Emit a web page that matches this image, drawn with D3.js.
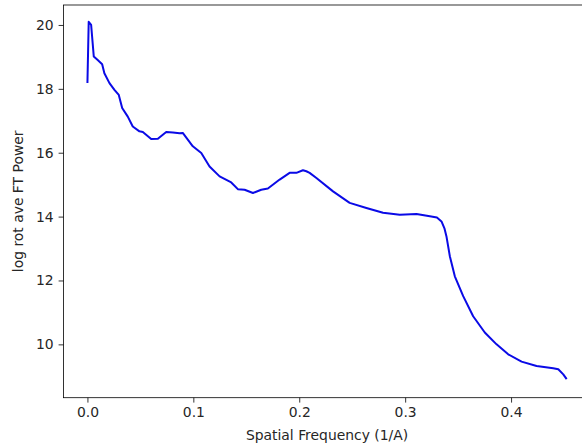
<!DOCTYPE html>
<html>
<head>
<meta charset="utf-8">
<script src="https://d3js.org/d3.v7.min.js"></script>
<style>
  body { margin: 0; background: #fff; }
  svg text { font-family: "DejaVu Sans", sans-serif; }
</style>
</head>
<body>
<div id="chart"></div>
<script>

// data
var freq = [0.0, 0.0012, 0.0035, 0.006, 0.0097, 0.0139, 0.016, 0.0208, 0.0255, 0.0296,
    0.0328, 0.0381, 0.0428, 0.0491, 0.0523, 0.0602, 0.0665, 0.0744, 0.0807, 0.087,
    0.09, 0.0995, 0.1075, 0.1153, 0.1248, 0.1358, 0.142, 0.1484, 0.1563, 0.1641,
    0.1704, 0.1815, 0.1909, 0.1973, 0.2035, 0.2067, 0.2098, 0.2162, 0.2319, 0.2476,
    0.2634, 0.2791, 0.2949, 0.3107, 0.3233, 0.3300, 0.3343, 0.3372, 0.339, 0.3422,
    0.3469, 0.3548, 0.3642, 0.3752, 0.3863, 0.3973, 0.4099, 0.4241, 0.4398, 0.4446,
    0.4493, 0.4525];
var power = [18.18, 20.10, 20.0, 19.01, 18.9, 18.77, 18.49, 18.18, 17.97, 17.81,
    17.4, 17.13, 16.82, 16.67, 16.65, 16.43, 16.44, 16.65, 16.63, 16.61,
    16.62, 16.2, 15.99, 15.57, 15.26, 15.07, 14.86, 14.84, 14.74, 14.84,
    14.88, 15.16, 15.37, 15.37, 15.45, 15.42, 15.37, 15.21, 14.79, 14.43,
    14.27, 14.12, 14.06, 14.08, 14.01, 13.97, 13.85, 13.62, 13.38, 12.76,
    12.13, 11.51, 10.88, 10.37, 10.0, 9.69, 9.46, 9.32, 9.25, 9.22,
    9.06, 8.91];
var xTicks = [0.0, 0.1, 0.2, 0.3, 0.4];
var yTicks = [10, 12, 14, 16, 18, 20];

var data = freq.map(function(f, i) { return {x: f, y: power[i]}; });

var W = 582, H = 446;
var plot = {left: 63.5, top: 5, right: 590.6, bottom: 397.7};

var svg = d3.select("#chart")
    .append("svg")
    .attr("width", W)
    .attr("height", H);

var x = d3.scaleLinear()
    .domain([-0.0226, 0.4751])
    .range([plot.left, plot.right]);

var y = d3.scaleLinear()
    .domain([8.33, 20.625])
    .range([plot.bottom, plot.top]);

var xAxis = d3.axisBottom(x)
    .tickValues(xTicks)
    .tickFormat(d3.format(".1f"))
    .tickSize(4.9)
    .tickPadding(4.9);

var yAxis = d3.axisLeft(y)
    .tickValues(yTicks)
    .tickFormat(d3.format("d"))
    .tickSize(4.9)
    .tickPadding(4.9);

var gx = svg.append("g")
    .attr("transform", "translate(0," + plot.bottom + ")")
    .call(xAxis);

var gy = svg.append("g")
    .attr("transform", "translate(" + plot.left + ",0)")
    .call(yAxis);

[gx, gy].forEach(function(g) {
    g.select(".domain").remove();
    g.selectAll(".tick line").attr("stroke", "#000").attr("stroke-width", 0.8);
    g.selectAll(".tick text")
        .attr("fill", "#262626")
        .style("font-size", "13.9px")
        .style("font-family", "DejaVu Sans");
});

// the line
svg.append("path")
    .datum(data)
    .attr("fill", "none")
    .attr("stroke", "#0a0ae6")
    .attr("stroke-width", 2)
    .attr("stroke-linejoin", "round")
    .attr("d", d3.line()
        .x(function(d) { return x(d.x); })
        .y(function(d) { return y(d.y); })
    );

// frame (right edge falls outside the picture)
svg.append("rect")
    .attr("x", plot.left)
    .attr("y", plot.top)
    .attr("width", plot.right - plot.left)
    .attr("height", plot.bottom - plot.top)
    .attr("fill", "none")
    .attr("stroke", "#000")
    .attr("stroke-width", 0.8);

svg.append("text")
    .attr("x", (plot.left + plot.right) / 2)
    .attr("y", 440)
    .attr("text-anchor", "middle")
    .attr("fill", "#262626")
    .style("font-size", "13.9px")
    .text("Spatial Frequency (1/A)");

svg.append("text")
    .attr("transform", "translate(23," + ((plot.top + plot.bottom) / 2) + ") rotate(-90)")
    .attr("text-anchor", "middle")
    .attr("fill", "#262626")
    .style("font-size", "13.9px")
    .text("log rot ave FT Power");

</script>
</body>
</html>
